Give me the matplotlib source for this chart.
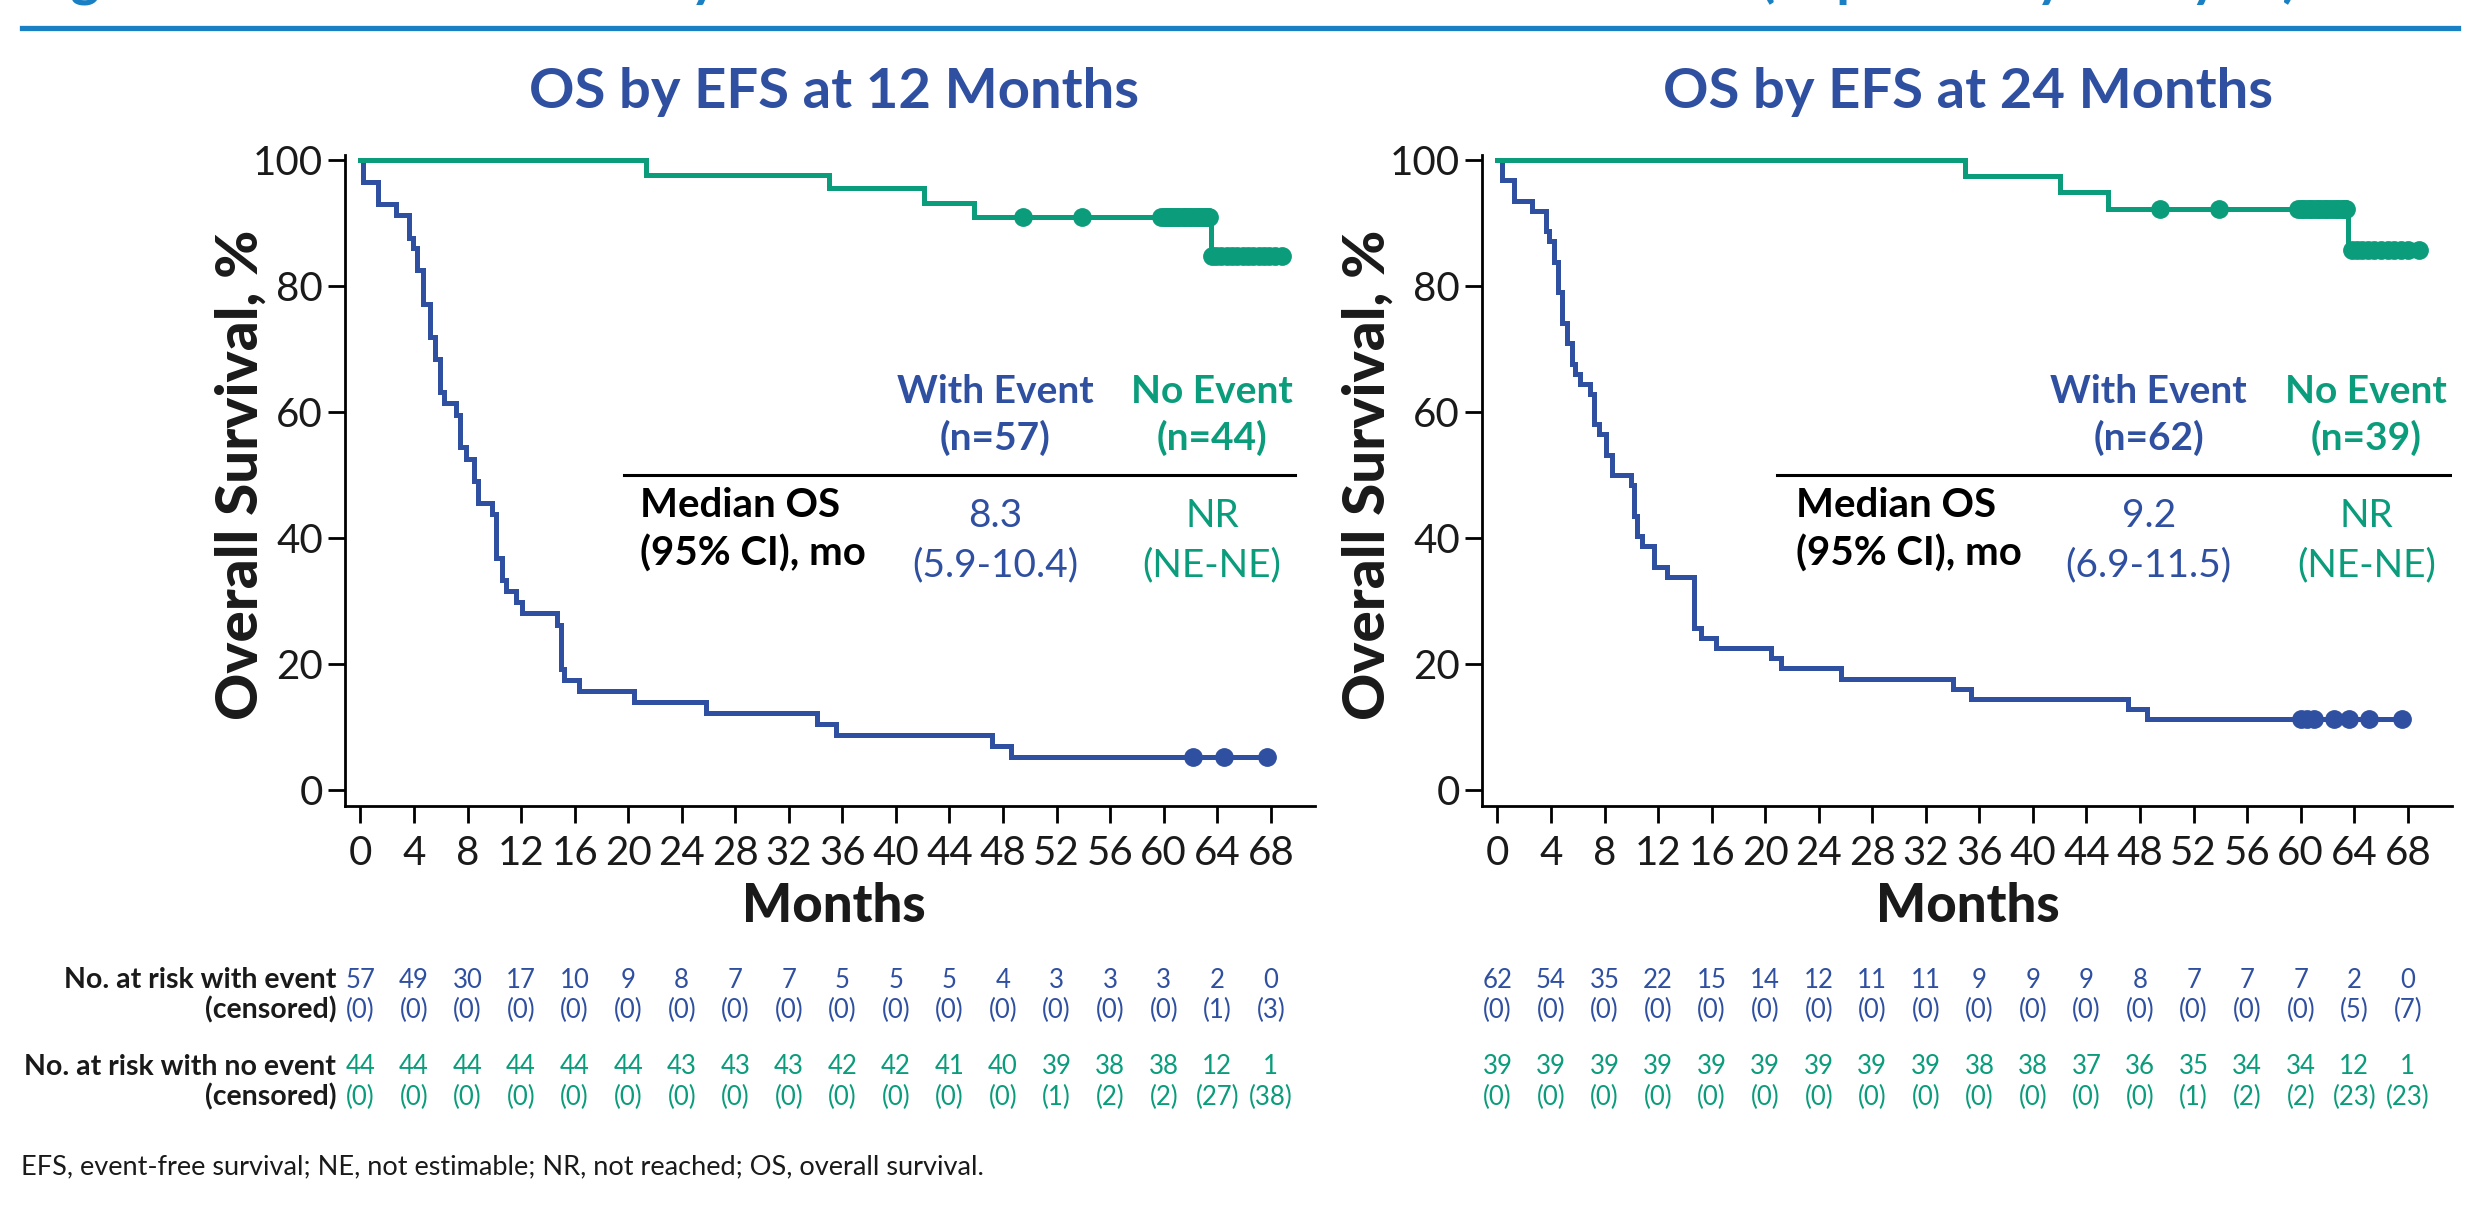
import numpy as np
import matplotlib
matplotlib.use("Agg")
import matplotlib.pyplot as plt
import matplotlib.transforms as mtransforms
from matplotlib.lines import Line2D

BLUE = '#2f4fa0'
GREEN = '#0a9c7b'
HEAD = '#1a80c4'
FONT = 'Lato'

month_ticks = np.arange(0, 69, 4)

# ---- OS by EFS at 12 months ----
ev12_t = [0, 0.2, 1.3, 2.65, 3.65, 3.9, 4.25, 4.7, 5.2, 5.6, 5.95, 6.25, 7.15, 7.45, 7.9,
          8.5, 8.8, 9.8, 10.15, 10.55, 10.9, 11.6, 12.1, 14.7, 15.0, 15.2, 16.3, 20.4,
          25.8, 34.1, 35.5, 47.2, 48.6, 67.7]
ev12_s = [100, 96.5, 93.0, 91.2, 87.7, 86.0, 82.5, 77.2, 71.9, 68.4, 63.2, 61.4, 59.6, 54.4,
          52.6, 49.1, 45.6, 43.9, 36.8, 33.3, 31.6, 29.8, 28.1, 26.3, 19.3, 17.5, 15.8, 14.0,
          12.3, 10.5, 8.8, 7.0, 5.3, 5.3]
ev12_cens = [62.2, 64.5, 67.7]

ne12_t = [0, 21.3, 35.0, 42.1, 45.8, 63.5, 68.8]
ne12_s = [100, 97.7, 95.5, 93.2, 90.9, 84.8, 84.8]
ne12_cens = [49.5, 53.9, 59.8, 60.0, 60.2, 60.3, 60.5, 60.6, 60.8, 61.0, 61.1, 61.3, 61.5,
             61.6, 61.8, 62.0, 62.1, 62.3, 62.5, 62.6, 62.8, 63.0, 63.1, 63.3, 63.4,
             63.6, 63.9, 64.3, 64.7, 65.1, 65.5, 65.9, 66.3, 66.7, 67.1, 67.5, 67.9, 68.3, 68.8]

# ---- OS by EFS at 24 months ----
ev24_t = [0, 0.36, 1.22, 2.59, 3.66, 3.84, 4.21, 4.53, 4.83, 5.21, 5.58, 5.83, 6.2, 6.95,
          7.2, 7.57, 8.1, 8.57, 9.95, 10.19, 10.44, 10.81, 11.68, 12.7, 14.7, 15.2, 16.3,
          20.4, 21.2, 25.7, 34.0, 35.4, 47.1, 48.5, 67.6]
ev24_s = [100, 96.8, 93.5, 91.9, 88.7, 87.1, 83.9, 79.0, 74.2, 71.0, 67.7, 66.1, 64.5, 62.9,
          58.1, 56.5, 53.2, 50.0, 48.4, 43.5, 40.3, 38.7, 35.5, 33.9, 25.8, 24.2, 22.6,
          21.0, 19.4, 17.7, 16.1, 14.5, 12.9, 11.3, 11.3]
ev24_cens = [60.0, 60.5, 61.0, 62.5, 63.6, 65.1, 67.6]

ne24_t = [0, 34.9, 42.0, 45.6, 63.5, 68.8]
ne24_s = [100, 97.4, 94.9, 92.3, 85.7, 85.7]
ne24_cens = [49.5, 53.9, 59.8, 60.0, 60.2, 60.4, 60.6, 60.8, 61.0, 61.2, 61.4, 61.6, 61.8,
             62.0, 62.2, 62.4, 62.6, 62.8, 63.0, 63.2, 63.3, 63.4,
             63.8, 64.2, 64.6, 65.0, 65.5, 66.0, 66.5, 67.0, 67.5, 68.0, 68.8]

# ---- numbers at risk ----
risk12_ev = [57, 49, 30, 17, 10, 9, 8, 7, 7, 5, 5, 5, 4, 3, 3, 3, 2, 0]
cens12_ev = [0, 0, 0, 0, 0, 0, 0, 0, 0, 0, 0, 0, 0, 0, 0, 0, 1, 3]
risk12_ne = [44, 44, 44, 44, 44, 44, 43, 43, 43, 42, 42, 41, 40, 39, 38, 38, 12, 1]
cens12_ne = [0, 0, 0, 0, 0, 0, 0, 0, 0, 0, 0, 0, 0, 1, 2, 2, 27, 38]
risk24_ev = [62, 54, 35, 22, 15, 14, 12, 11, 11, 9, 9, 9, 8, 7, 7, 7, 2, 0]
cens24_ev = [0, 0, 0, 0, 0, 0, 0, 0, 0, 0, 0, 0, 0, 0, 0, 0, 5, 7]
risk24_ne = [39, 39, 39, 39, 39, 39, 39, 39, 39, 38, 38, 37, 36, 35, 34, 34, 12, 1]
cens24_ne = [0, 0, 0, 0, 0, 0, 0, 0, 0, 0, 0, 0, 0, 1, 2, 2, 23, 23]

panels = [
    dict(title='OS by EFS at 12 Months', n_ev=57, n_ne=44, med='8.3', ci='(5.9-10.4)',
         ev=(ev12_t, ev12_s, ev12_cens), ne=(ne12_t, ne12_s, ne12_cens),
         risk=(risk12_ev, cens12_ev, risk12_ne, cens12_ne)),
    dict(title='OS by EFS at 24 Months', n_ev=62, n_ne=39, med='9.2', ci='(6.9-11.5)',
         ev=(ev24_t, ev24_s, ev24_cens), ne=(ne24_t, ne24_s, ne24_cens),
         risk=(risk24_ev, cens24_ev, risk24_ne, cens24_ne)),
]

W, H = 2483, 1211
fig = plt.figure(figsize=(W / 100, H / 100), dpi=100)


def fx(px):
    return px / W


def fy(py):
    return 1 - py / H


# header, cut off at the top edge as in the source
fig.text(fx(25), fy(-4), 'Figure 3. Overall Survival by Event-Free Survival at 12 and 24 Months '
         '(Exploratory Analysis)', color=HEAD, fontsize=40, fontweight='bold',
         family=FONT, va='baseline', ha='left')
fig.add_artist(Line2D([fx(22), fx(2458)], [fy(27.5), fy(27.5)], color=HEAD, lw=3.8))

axes_left = [345, 1482]
for k, p in enumerate(panels):
    ax = fig.add_axes([fx(axes_left[k]), fy(806), fx(970), 651 / H])
    ax.set_xlim(-1.15, 71.3)
    ax.set_ylim(-2.5, 100.8)
    for side in ['top', 'right']:
        ax.spines[side].set_visible(False)
    for side in ['left', 'bottom']:
        ax.spines[side].set_linewidth(2)
    ax.set_xticks(month_ticks)
    ax.set_yticks([0, 20, 40, 60, 80, 100])
    ax.tick_params(axis='both', length=12, width=2, labelsize=29, direction='out',
                   labelcolor='#1a1a1a')
    ax.tick_params(axis='x', pad=9)
    ax.tick_params(axis='y', pad=4)
    for lab in ax.get_xticklabels() + ax.get_yticklabels():
        lab.set_family(FONT)
        lab.set_fontweight('normal')

    for (t, s, cens), col in [(p['ev'], BLUE), (p['ne'], GREEN)]:
        ax.step(t, s, where='post', color=col, lw=3.6, solid_joinstyle='miter', zorder=3)
        idx = np.searchsorted(t, cens, side='right') - 1
        ax.plot(cens, np.array(s)[idx], 'o', color=col, ms=12.5, zorder=4, clip_on=False)

    # median table
    cx_ev, cx_ne = (47.4, 63.6) if k == 0 else (48.65, 64.9)
    x_line0, x_line1 = (19.7, 69.8) if k == 0 else (20.9, 71.15)
    x_med = 20.85 if k == 0 else 22.3
    tk = dict(family=FONT, ha='center', va='center')
    ax.text(cx_ev, 63.3, 'With Event', color=BLUE, fontsize=28, fontweight='bold', **tk)
    ax.text(cx_ev, 55.9, '(n=%d)' % p['n_ev'], color=BLUE, fontsize=28, fontweight='bold', **tk)
    ax.text(cx_ne, 63.3, 'No Event', color=GREEN, fontsize=28, fontweight='bold', **tk)
    ax.text(cx_ne, 55.9, '(n=%d)' % p['n_ne'], color=GREEN, fontsize=28, fontweight='bold', **tk)
    ax.plot([x_line0, x_line1], [50, 50], color='black', lw=2.2)
    ax.text(x_med, 45.2, 'Median OS', color='black', fontsize=29, fontweight='bold',
            family=FONT, ha='left', va='center')
    ax.text(x_med, 37.5, '(95% CI), mo', color='black', fontsize=29, fontweight='bold',
            family=FONT, ha='left', va='center')
    ax.text(cx_ev, 43.5, p['med'], color=BLUE, fontsize=28, fontweight='normal', **tk)
    ax.text(cx_ev, 35.7, p['ci'], color=BLUE, fontsize=28, fontweight='normal', **tk)
    ax.text(cx_ne, 43.5, 'NR', color=GREEN, fontsize=28, fontweight='normal', **tk)
    ax.text(cx_ne, 35.7, '(NE-NE)', color=GREEN, fontsize=28, fontweight='normal', **tk)

    # titles and axis labels
    cx = [834, 1968][k]
    fig.text(fx(cx), fy(92), p['title'], color=BLUE, fontsize=40.5, fontweight='bold',
             family=FONT, ha='center', va='center')
    fig.text(fx([241, 1368][k]), fy(475), 'Overall Survival, %', rotation=90, fontsize=42,
             fontweight='black', family=FONT, ha='center', va='center', color='#1a1a1a')
    fig.text(fx(cx), fy(906), 'Months', fontsize=38, fontweight='black', family=FONT,
             ha='center', va='center', color='#1a1a1a')

    # numbers at risk
    tr = mtransforms.blended_transform_factory(ax.transData, fig.transFigure)
    r_ev, c_ev, r_ne, c_ne = p['risk']
    rows = [(r_ev, 980, BLUE, False), (c_ev, 1010, BLUE, True),
            (r_ne, 1067, GREEN, False), (c_ne, 1097, GREEN, True)]
    for vals, py, col, paren in rows:
        for m, v in zip(month_ticks, vals):
            ax.text(m, fy(py), '(%d)' % v if paren else str(v), transform=tr, color=col,
                    fontsize=18.5, fontweight='normal', family=FONT, ha='center', va='center')

lab = dict(fontsize=20.5, fontweight='bold', family=FONT, ha='right', va='center', color='#1a1a1a')
fig.text(fx(336), fy(980), 'No. at risk with event', **lab)
fig.text(fx(336), fy(1010), '(censored)', **lab)
fig.text(fx(336), fy(1067), 'No. at risk with no event', **lab)
fig.text(fx(336), fy(1097), '(censored)', **lab)

fig.text(fx(21), fy(1167), 'EFS, event-free survival; NE, not estimable; NR, not reached; '
         'OS, overall survival.', fontsize=19.5, family=FONT, ha='left', va='center',
         color='#1a1a1a')

fig.savefig('out.png', dpi=100)
